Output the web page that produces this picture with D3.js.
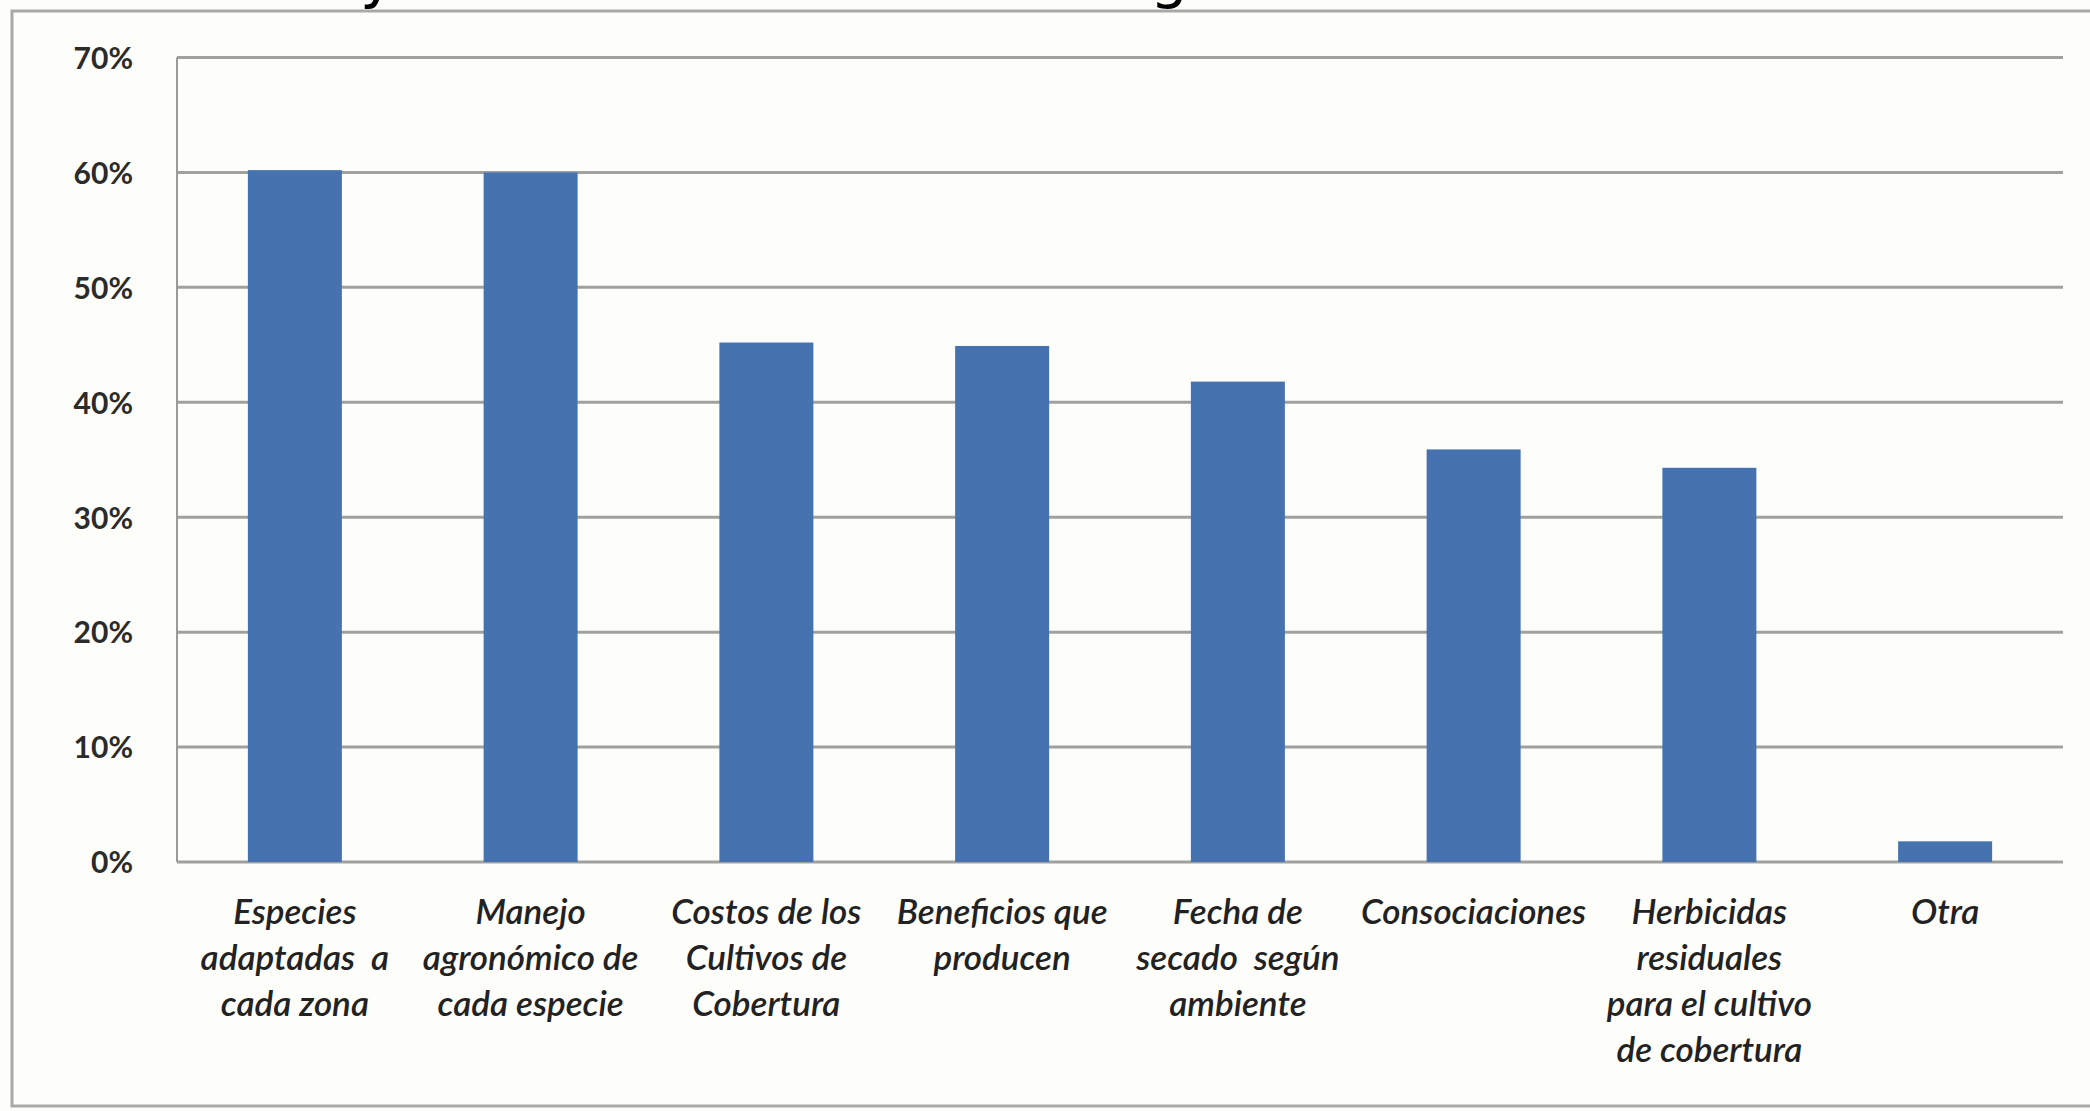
<!DOCTYPE html>
<html>
<head>
<meta charset="utf-8">
<script src="https://cdn.jsdelivr.net/npm/d3@7"></script>
<style>
  html, body { margin: 0; padding: 0; background: #fdfdfa; }
  svg { display: block; }
</style>
</head>
<body>
<svg id="chart" width="2090" height="1111"></svg>
<script>
const categories = [
  ["Especies", "adaptadas  a", "cada zona"],
  ["Manejo", "agronómico de", "cada especie"],
  ["Costos de los", "Cultivos de", "Cobertura"],
  ["Beneficios que", "producen"],
  ["Fecha de", "secado  según", "ambiente"],
  ["Consociaciones"],
  ["Herbicidas", "residuales", "para el cultivo", "de cobertura"],
  ["Otra"]
];
const values = [0.602, 0.600, 0.452, 0.449, 0.418, 0.359, 0.343, 0.018];
const yTicks = [0, 0.1, 0.2, 0.3, 0.4, 0.5, 0.6, 0.7];

const svg = d3.select("#chart");
const W = 2090, H = 1111;
const mLeft = 177, mRight = 2063, mTop = 57.5, mBottom = 862;

svg.append("rect").attr("x", 0).attr("y", 0).attr("width", W).attr("height", H).attr("fill", "#fdfdfa");

// cut-off title fragments at the very top (title lies above the picture)
svg.append("text").attr("x", 360).attr("y", -4).attr("font-family", "DejaVu Sans").attr("font-size", 60)
  .attr("fill", "#000").text("y");
svg.append("text").attr("x", 1150).attr("y", -4).attr("font-family", "DejaVu Sans").attr("font-size", 60)
  .attr("fill", "#000").text("g");

// outer frame
svg.append("path").attr("d", `M${W},11 H12 V1106 H${W}`).attr("fill", "none")
  .attr("stroke", "#a9aaa6").attr("stroke-width", 3);

const x = d3.scaleBand().domain(d3.range(categories.length)).range([mLeft, mRight]).padding(0);
const y = d3.scaleLinear().domain([0, 0.7]).range([mBottom, mTop]);

// gridlines
svg.append("g").selectAll("line").data(yTicks).join("line")
  .attr("x1", mLeft).attr("x2", mRight)
  .attr("y1", d => y(d)).attr("y2", d => y(d))
  .attr("stroke", "#a0a19d").attr("stroke-width", 3);

// y axis line
svg.append("line").attr("x1", mLeft).attr("x2", mLeft).attr("y1", y(0.7)).attr("y2", y(0))
  .attr("stroke", "#9a9b97").attr("stroke-width", 2);

// y tick labels
const yAxis = d3.axisLeft(y).tickValues(yTicks).tickFormat(d3.format(".0%")).tickSize(0).tickPadding(44);
const ya = svg.append("g").attr("transform", `translate(${mLeft},0)`).call(yAxis);
ya.select(".domain").remove();
ya.selectAll("text").attr("font-family", "Lato").attr("font-weight", 700).attr("font-size", 30)
  .attr("fill", "#2b2b2b").attr("dy", "0.36em");

// bars
const barW = 94;
svg.append("g").selectAll("rect").data(values).join("rect")
  .attr("x", (d, i) => x(i) + x.bandwidth() / 2 - barW / 2)
  .attr("width", barW)
  .attr("y", d => y(d))
  .attr("height", d => y(0) - y(d))
  .attr("fill", "#4673b0");

// x labels
const lab = svg.append("g");
categories.forEach((lines, i) => {
  const t = lab.append("text")
    .attr("x", x(i) + x.bandwidth() / 2)
    .attr("y", 924)
    .attr("text-anchor", "middle")
    .attr("font-family", "Lato").attr("font-style", "italic").attr("font-weight", 600)
    .attr("font-size", 35).attr("fill", "#222")
    .style("white-space", "pre");
  lines.forEach((ln, j) => {
    t.append("tspan").attr("x", x(i) + x.bandwidth() / 2).attr("dy", j === 0 ? 0 : 46).text(ln);
  });
});
</script>
</body>
</html>
